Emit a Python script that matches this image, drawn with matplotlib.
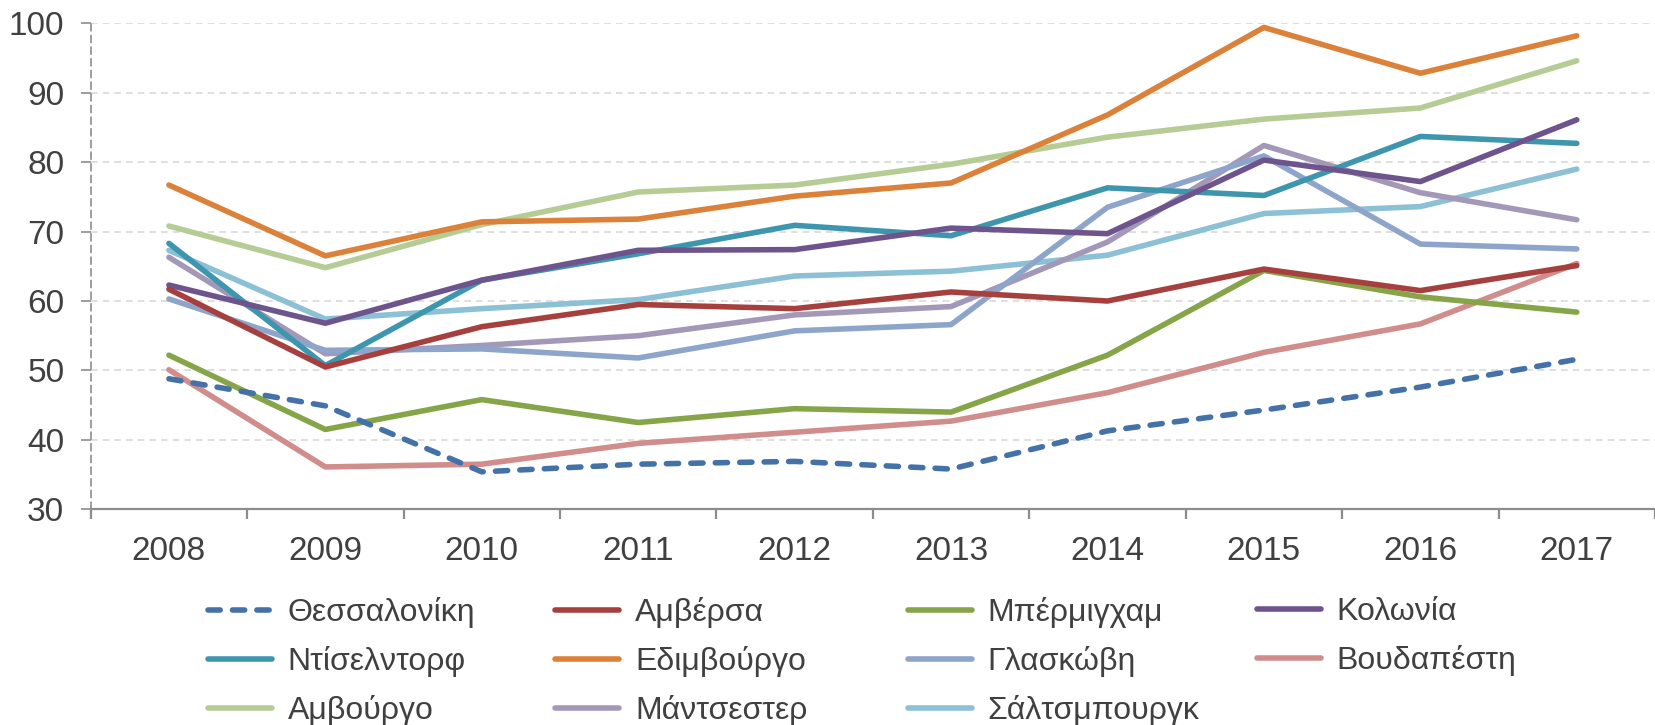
import matplotlib.pyplot as plt
from matplotlib.ticker import MultipleLocator
import numpy as np

plt.rcParams['font.family'] = ['Liberation Sans', 'DejaVu Sans']

years = ['2008', '2009', '2010', '2011', '2012', '2013', '2014', '2015', '2016', '2017']

thessaloniki = [48.8, 44.9, 35.4, 36.5, 36.9, 35.8, 41.3, 44.3, 47.6, 51.6]
antwerp = [61.7, 50.5, 56.3, 59.5, 58.9, 61.3, 60.0, 64.6, 61.5, 65.1]
birmingham = [52.2, 41.5, 45.8, 42.5, 44.5, 44.0, 52.2, 64.4, 60.6, 58.4]
cologne = [62.3, 56.8, 63.0, 67.3, 67.4, 70.5, 69.7, 80.3, 77.2, 86.1]
dusseldorf = [68.3, 50.7, 63.0, 66.8, 70.9, 69.4, 76.3, 75.2, 83.7, 82.7]
edinburgh = [76.7, 66.5, 71.4, 71.8, 75.1, 77.0, 86.8, 99.4, 92.8, 98.2]
glasgow = [60.3, 52.9, 53.1, 51.8, 55.7, 56.6, 73.5, 80.9, 68.2, 67.5]
budapest = [50.1, 36.1, 36.5, 39.5, 41.1, 42.7, 46.8, 52.6, 56.7, 65.4]
hamburg = [70.8, 64.8, 71.0, 75.7, 76.7, 79.7, 83.6, 86.2, 87.8, 94.6]
manchester = [66.3, 52.4, 53.6, 55.0, 58.0, 59.2, 68.5, 82.4, 75.6, 71.7]
salzburg = [67.3, 57.4, 58.9, 60.2, 63.6, 64.3, 66.6, 72.6, 73.6, 79.0]

names = ['Θεσσαλονίκη', 'Αμβέρσα', 'Μπέρμιγχαμ', 'Κολωνία',
         'Ντίσελντορφ', 'Εδιμβούργο', 'Γλασκώβη', 'Βουδαπέστη',
         'Αμβούργο', 'Μάντσεστερ', 'Σάλτσμπουργκ']
series = [thessaloniki, antwerp, birmingham, cologne,
          dusseldorf, edinburgh, glasgow, budapest,
          hamburg, manchester, salzburg]
colors = ['#4472a8', '#a5403e', '#86a448', '#6e548d',
          '#3d96ae', '#dc8139', '#8ea5cb', '#d08d8c',
          '#b6cc95', '#a498b9', '#8cc0d4']

text_color = '#404040'

fig = plt.figure(figsize=(16.55, 7.25), dpi=100)
ax = fig.add_axes([0.0548, 0.2975, 0.9452, 0.6704])

x = np.arange(len(years))
handles = []
# draw back to front so Thessaloniki sits on top
for i in range(len(series) - 1, -1, -1):
    if i == 0:
        ln, = ax.plot(x, series[i], color=colors[i], lw=4.0, linestyle=(0, (2.2, 2.2)),
                      dash_capstyle='round', solid_joinstyle='round', zorder=5)
    else:
        ln, = ax.plot(x, series[i], color=colors[i], lw=4.0,
                      solid_capstyle='round', solid_joinstyle='round', zorder=3)
    handles.insert(0, ln)

ax.set_xlim(-0.5, len(years) - 0.5)
ax.set_ylim(30, 100)
ax.yaxis.set_major_locator(MultipleLocator(10))
ax.set_xticks(x)
ax.set_xticklabels(years)
ax.set_xticks(np.arange(-0.5, len(years)), minor=True)

ax.grid(axis='y', color='#d9d9d9', linestyle=(0, (4, 3)), lw=1.2)
ax.set_axisbelow(True)

for side in ['top', 'right']:
    ax.spines[side].set_visible(False)
ax.spines['left'].set_color('#8c8c8c')
ax.spines['left'].set_linestyle((0, (4, 3)))
ax.spines['left'].set_linewidth(1.2)
ax.spines['bottom'].set_color('#8c8c8c')
ax.spines['bottom'].set_linewidth(1.6)
ax.spines['bottom'].set_zorder(6)

ax.tick_params(axis='y', direction='out', length=7, width=1.2, color='#8c8c8c',
               pad=12, labelsize=24, labelcolor=text_color)
ax.tick_params(axis='x', which='major', length=0, pad=19, labelsize=24, labelcolor=text_color)
ax.tick_params(axis='x', which='minor', direction='out', length=7, width=1.6, color='#8c8c8c')

# legend: four columns laid out row by row
col_x = [0.1255, 0.3355, 0.5485, 0.7595]
for c in range(4):
    idx = list(range(c, len(names), 4))
    leg = fig.legend([handles[k] for k in idx], [names[k] for k in idx],
                     loc='upper left', bbox_to_anchor=(col_x[c], 0.176),
                     frameon=False, fontsize=23, handlelength=2.0, handletextpad=0.5,
                     labelspacing=0.56, borderaxespad=0, borderpad=0)
    for t in leg.get_texts():
        t.set_color(text_color)

fig.savefig('out.png', dpi=100)
